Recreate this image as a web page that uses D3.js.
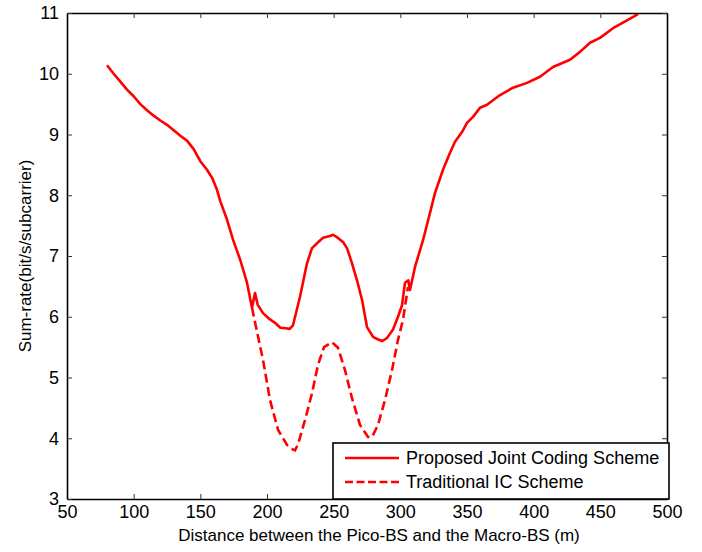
<!DOCTYPE html>
<html>
<head>
<meta charset="utf-8">
<script src="https://cdn.jsdelivr.net/npm/d3@7"></script>
<style>
    body { margin: 0; background: #fff; }
    text { font-family: "Liberation Sans", Arial, sans-serif; }
</style>
</head>
<body>
<div class="chart"></div>
<script>
// distance (m) and sum-rate
let proposedX = [80, 85, 90, 95, 100, 105, 110, 115, 120, 125, 130, 135, 140, 145, 150, 155, 159, 162.5, 165, 170, 174.5, 180, 185, 188.75,
    191, 193, 197, 202, 206, 210, 214, 217, 219.5, 224.75, 230, 233.75, 237.5, 242, 247.25, 249.5, 252.5, 257, 260, 263.75, 267.5, 271.25,
    275, 279.5, 283, 286.25, 290, 294.5, 298.25, 301.25, 303.5, 306, 307.25, 311, 317, 322.25, 326, 332, 337.25, 341, 346.25, 350,
    354.5, 359.75, 365, 374.75, 384.5, 395, 404.75, 414.5, 427.25, 434.75, 442.25, 449.75, 459.5, 470, 478.25]
let proposedY = [10.14, 10.0, 9.87, 9.74, 9.63, 9.5, 9.4, 9.31, 9.23, 9.16, 9.07, 8.98, 8.9, 8.76, 8.56, 8.42, 8.28, 8.09, 7.9, 7.6, 7.27, 6.93, 6.56, 6.15,
    6.39, 6.2, 6.06, 5.96, 5.9, 5.82, 5.81, 5.8, 5.86, 6.33, 6.88, 7.13, 7.21, 7.3, 7.33, 7.35, 7.31, 7.23, 7.13, 6.88, 6.6, 6.28,
    5.83, 5.67, 5.63, 5.6, 5.65, 5.79, 6.0, 6.19, 6.56, 6.6, 6.44, 6.82, 7.26, 7.71, 8.04, 8.42, 8.7, 8.88, 9.04, 9.19,
    9.29, 9.44, 9.49, 9.65, 9.77, 9.85, 9.95, 10.11, 10.23, 10.36, 10.51, 10.59, 10.75, 10.88, 10.98]

// traditional IC scheme, only where it leaves the proposed curve
let traditionalX = [188.75, 191, 197, 202.25, 208.25, 215, 219, 221, 223.25, 228.5, 233.75, 238.25, 242.75, 248.75, 253.25, 258.5, 263.75,
    269.75, 275.75, 278.75, 283.25, 288.5, 293.75, 298.25, 302, 305.75]
let traditionalY = [6.15, 5.91, 5.29, 4.63, 4.14, 3.89, 3.82, 3.8, 3.9, 4.3, 4.74, 5.21, 5.5, 5.58, 5.49, 5.12, 4.66,
    4.22, 4.02, 4.02, 4.22, 4.63, 5.12, 5.62, 5.95, 6.49]

let xTicks = [50, 100, 150, 200, 250, 300, 350, 400, 450, 500]
let yTicks = [3, 4, 5, 6, 7, 8, 9, 10, 11]
let legendNames = ["Proposed Joint Coding Scheme", "Traditional IC Scheme"]

let width = 702
let height = 552
let margin = {left: 67, top: 13, right: 35, bottom: 53}
let w = width - margin.left - margin.right
let h = height - margin.top - margin.bottom

let svg = d3.select(".chart")
    .append("svg")
    .attr("width", width)
    .attr("height", height)

let g = svg.append("g")
    .attr("transform", "translate(" + margin.left + "," + margin.top + ")")

let x = d3.scaleLinear().domain([50, 500]).range([0, w])
let y = d3.scaleLinear().domain([3, 11]).range([h, 0])

let line = d3.line()
    .x(d => x(d[0]))
    .y(d => y(d[1]))

// curves
g.append("path")
    .datum(d3.zip(traditionalX, traditionalY))
    .attr("d", line)
    .attr("fill", "none")
    .attr("stroke", "#ff0000")
    .attr("stroke-width", 2.6)
    .attr("stroke-dasharray", "9,4.5")

g.append("path")
    .datum(d3.zip(proposedX, proposedY))
    .attr("d", line)
    .attr("fill", "none")
    .attr("stroke", "#ff0000")
    .attr("stroke-width", 2.6)
    .attr("stroke-linejoin", "round")

// axes, ticks inside on all four sides like matlab
let tickFont = 18
g.append("g")
    .attr("transform", "translate(0," + h + ")")
    .call(d3.axisBottom(x).tickValues(xTicks).tickSizeInner(-5).tickSizeOuter(0).tickPadding(6))
g.append("g")
    .call(d3.axisTop(x).tickValues(xTicks).tickSizeInner(-5).tickSizeOuter(0).tickFormat(""))
g.append("g")
    .call(d3.axisLeft(y).tickValues(yTicks).tickSizeInner(-5).tickSizeOuter(0).tickPadding(8))
g.append("g")
    .attr("transform", "translate(" + w + ",0)")
    .call(d3.axisRight(y).tickValues(yTicks).tickSizeInner(-5).tickSizeOuter(0).tickFormat(""))

g.selectAll(".domain").attr("stroke", "#000").attr("stroke-width", 1.6)
g.selectAll(".tick line").attr("stroke", "#333").attr("stroke-width", 1)
g.selectAll(".tick text")
    .style("font-size", tickFont + "px")
    .style("font-family", "Liberation Sans, Arial, sans-serif")
    .attr("fill", "#000")

// axis labels
svg.append("text")
    .attr("x", 379)
    .attr("y", 541)
    .style("text-anchor", "middle")
    .style("font-size", "17px")
    .text("Distance between the Pico-BS and the Macro-BS (m)")

svg.append("text")
    .attr("transform", "translate(31,256) rotate(-90)")
    .style("text-anchor", "middle")
    .style("font-size", "17px")
    .text("Sum-rate(bit/s/subcarrier)")

// legend
let legend = svg.append("g")
    .attr("transform", "translate(333,443)")

legend.append("rect")
    .attr("width", 336)
    .attr("height", 56)
    .attr("fill", "#fff")
    .attr("stroke", "#000")
    .attr("stroke-width", 1.6)

legend.selectAll("line")
    .data(legendNames)
    .enter()
    .append("line")
    .attr("x1", 12)
    .attr("x2", 66)
    .attr("y1", (d, i) => 15 + i * 24)
    .attr("y2", (d, i) => 15 + i * 24)
    .attr("stroke", "#ff0000")
    .attr("stroke-width", 2.6)
    .attr("stroke-dasharray", (d, i) => i == 0 ? null : "8,3.5")

legend.selectAll("text")
    .data(legendNames)
    .enter()
    .append("text")
    .attr("x", 73)
    .attr("y", (d, i) => 21 + i * 24)
    .style("font-size", "18px")
    .text(d => d)
</script>
</body>
</html>
